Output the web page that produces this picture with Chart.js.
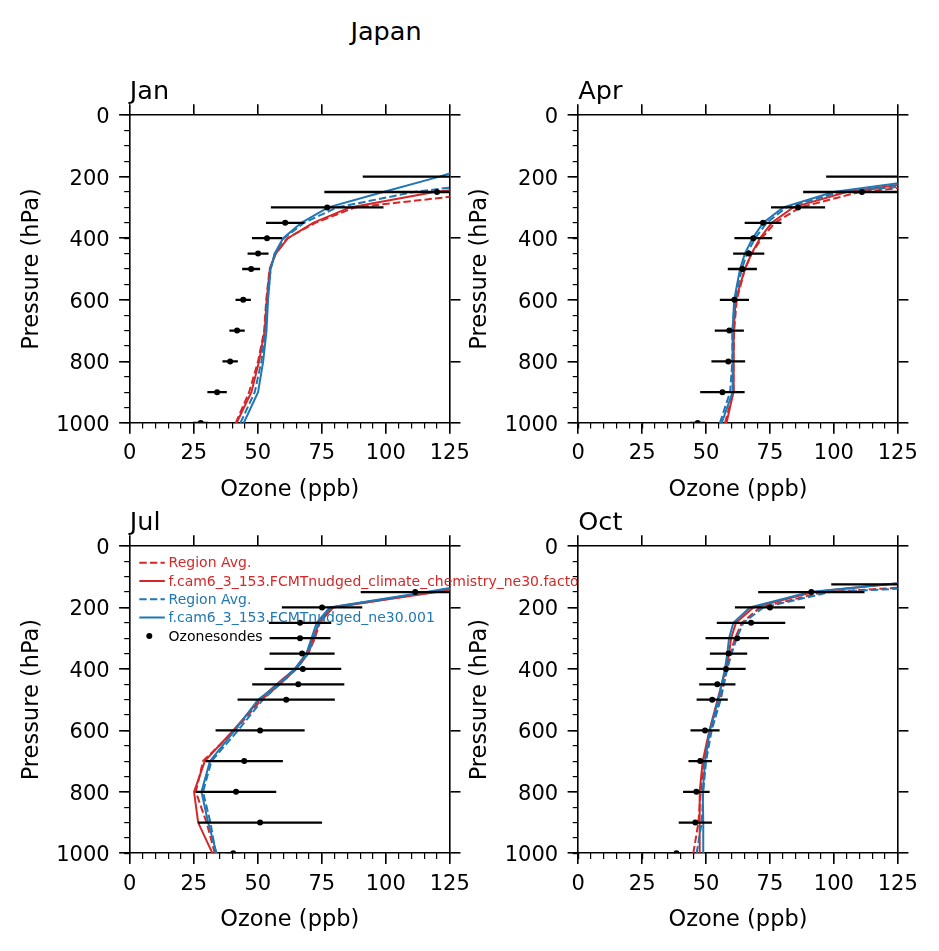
<!DOCTYPE html>
<html>
<head>
<meta charset="utf-8">
<script src="https://cdn.jsdelivr.net/npm/chart.js@4.4.1/dist/chart.umd.min.js"></script>
<style>
  html, body { margin: 0; padding: 0; background: #ffffff; width: 939px; height: 951px; overflow: hidden; }
  canvas { position: absolute; }
  #suptitle { position: absolute; font-family: 'DejaVu Sans'; font-size: 25.5px; line-height: 25.5px;
              left: 286px; width: 200px; top: 19.4px; text-align: center; color: #000; }
</style>
</head>
<body>
<div id="suptitle">Japan</div>
<canvas id="cJan"></canvas>
<canvas id="cApr"></canvas>
<canvas id="cJul"></canvas>
<canvas id="cOct"></canvas>
<script>
// ---------------- data ----------------
const MODEL_P = [1000, 900, 800, 700, 600, 500, 450, 400, 350, 300, 250, 200, 150, 100];

const JAN_CHEM_REGION   = [41.4, 46.6, 50.1, 52.5, 53.3, 54.6, 57.0, 61.5, 72.5, 88.0, 142, 200, 260, 320];
const JAN_CHEM          = [41.7, 47.5, 50.5, 52.7, 53.5, 54.7, 57.0, 61.8, 71.6, 86.0, 119, 170, 230, 300];
const JAN_NUDGED_REGION = [43.2, 48.8, 51.4, 53.0, 53.8, 55.0, 56.6, 60.2, 68.0, 81.0, 111, 160, 220, 300];
const JAN_NUDGED        = [44.5, 50.1, 52.1, 53.4, 54.0, 55.0, 56.6, 59.9, 67.0, 77.5, 99, 121, 140, 200];
const JAN_SONDE_P   = [200, 250, 300, 350, 400, 450, 500, 600, 700, 800, 900, 1000];
const JAN_SONDE_O3  = [140, 120.0, 77.1, 60.7, 53.6, 50.1, 47.4, 44.3, 41.9, 39.2, 34.1, 27.7];
const JAN_SONDE_ERR = [49, 44, 22, 7.5, 5.9, 4.1, 3.5, 3.0, 3.0, 3.0, 3.8, 3.0];

const APR_CHEM_REGION   = [57.4, 60.7, 60.7, 61.0, 62.0, 65.2, 67.8, 71.8, 77.0, 86.8, 110, 170, 240, 300];
const APR_CHEM          = [58.0, 60.7, 60.7, 60.9, 61.6, 65.2, 67.8, 71.1, 75.7, 84.1, 105, 150, 220, 280];
const APR_NUDGED_REGION = [55.4, 59.4, 60.3, 60.3, 61.3, 64.0, 66.0, 69.2, 73.7, 81.5, 102.4, 170, 240, 300];
const APR_NUDGED        = [56.1, 60.4, 60.4, 60.4, 61.0, 63.3, 65.2, 68.2, 72.4, 80.2, 99.8, 144, 200, 260];
const APR_SONDE_P   = [200, 250, 300, 350, 400, 450, 500, 600, 700, 800, 900, 1000];
const APR_SONDE_O3  = [135, 111, 86, 72.3, 68.5, 66.7, 64.2, 61.1, 59.1, 58.7, 56.4, 46.7];
const APR_SONDE_ERR = [38, 23, 10.6, 7.2, 7.4, 6.1, 5.7, 5.7, 5.7, 6.6, 8.7, 3.0];

const JUL_CHEM_REGION   = [33.2, 30.0, 25.8, 28.6, 41.0, 51.4, 58.6, 65.1, 69.7, 72.3, 74.2, 78.8, 118.5, 150];
const JUL_CHEM          = [32.3, 26.7, 25.1, 29.3, 40.4, 50.8, 57.3, 64.5, 69.0, 71.6, 74.0, 79.4, 119.8, 150];
const JUL_NUDGED_REGION = [33.6, 31.5, 28.6, 31.9, 42.3, 52.0, 58.6, 65.1, 69.7, 72.0, 73.8, 78.4, 117.0, 150];
const JUL_NUDGED        = [33.9, 30.6, 28.0, 31.3, 41.0, 50.1, 57.9, 64.5, 69.0, 71.0, 73.0, 78.1, 115.9, 150];
const JUL_SONDE_P   = [150, 200, 250, 300, 350, 400, 450, 500, 600, 700, 800, 900, 1000];
const JUL_SONDE_O3  = [111.5, 75.1, 66.5, 66.5, 67.3, 67.6, 65.8, 61.1, 50.9, 44.7, 41.5, 50.9, 40.4];
const JUL_SONDE_ERR = [21.3, 15.7, 12.2, 11.9, 12.7, 15.0, 18.0, 19.0, 17.4, 15.1, 15.7, 24.2, 3.0];

const OCT_CHEM_REGION   = [45.0, 47.0, 47.9, 49.2, 51.8, 55.5, 56.8, 58.1, 59.6, 61.3, 64.0, 71.1, 95.9, 200];
const OCT_CHEM          = [47.4, 47.4, 47.6, 48.7, 51.3, 54.5, 56.1, 57.8, 59.0, 59.8, 61.7, 68.5, 92.0, 150];
const OCT_NUDGED_REGION = [46.3, 48.3, 48.9, 50.0, 52.2, 55.7, 57.0, 58.3, 60.0, 62.0, 64.6, 72.4, 98.5, 220];
const OCT_NUDGED        = [48.9, 48.9, 48.7, 49.6, 51.5, 54.8, 56.1, 57.4, 58.3, 59.0, 60.7, 67.2, 90.7, 150];
const OCT_SONDE_P   = [125, 150, 200, 250, 300, 350, 400, 450, 500, 600, 700, 800, 900, 1000];
const OCT_SONDE_O3  = [140, 91.2, 75.0, 67.6, 62.2, 58.8, 57.8, 54.4, 52.4, 49.6, 47.7, 46.2, 45.8, 38.4];
const OCT_SONDE_ERR = [41, 20.8, 13.7, 13.4, 12.4, 7.3, 7.7, 7.1, 6.1, 5.7, 4.6, 5.2, 6.5, 3.0];

const X_TICKS_STEP = 25, X_MINOR_STEP = 5, X_MIN = 0, X_MAX = 125;
const Y_TICKS_STEP = 200, Y_MINOR_STEP = 50, Y_MIN = 0, Y_MAX = 1000;
const LABEL_CHEM_REGION = 'Region Avg.';
const LABEL_CHEM = 'f.cam6_3_153.FCMTnudged_climate_chemistry_ne30.factor';
const LABEL_NUDGED_REGION = 'Region Avg.';
const LABEL_NUDGED = 'f.cam6_3_153.FCMTnudged_ne30.001';
const LABEL_SONDE = 'Ozonesondes';

// ---------------- style / layout ----------------
const FONT = 'DejaVu Sans';
const BLACK = '#000000', RED = '#d62728', BLUE = '#1f77b4';
const TICK_MAJOR = 10.7, TICK_MINOR = 5.6;
const SPINE_W = 1.6, MINOR_W = 1.2;
const TICK_FS = 21, LABEL_FS = 22.5, TITLE_FS = 25.5, LEGEND_FS = 14;
const MID_K = 0.346;          // canvas 'middle' baseline offset (fraction of font size)
const LINE_W = 2, DASH = [7.4, 3.2];

const PANELS = [
  { id: 'cJan', title: 'Jan', legend: false,
    box: { left: 0, top: 50, width: 480, height: 455 },
    area: { left: 129.8, right: 449.8, top: 115, bottom: 423 },
    chemRegion: JAN_CHEM_REGION, chem: JAN_CHEM, nudgedRegion: JAN_NUDGED_REGION, nudged: JAN_NUDGED,
    sondeP: JAN_SONDE_P, sondeO3: JAN_SONDE_O3, sondeErr: JAN_SONDE_ERR },
  { id: 'cApr', title: 'Apr', legend: false,
    box: { left: 455, top: 50, width: 484, height: 455 },
    area: { left: 578.3, right: 897.7, top: 115, bottom: 423 },
    chemRegion: APR_CHEM_REGION, chem: APR_CHEM, nudgedRegion: APR_NUDGED_REGION, nudged: APR_NUDGED,
    sondeP: APR_SONDE_P, sondeO3: APR_SONDE_O3, sondeErr: APR_SONDE_ERR },
  { id: 'cJul', title: 'Jul', legend: true,
    box: { left: 0, top: 481, width: 600, height: 460 },
    area: { left: 129.8, right: 449.8, top: 546, bottom: 853.3 },
    chemRegion: JUL_CHEM_REGION, chem: JUL_CHEM, nudgedRegion: JUL_NUDGED_REGION, nudged: JUL_NUDGED,
    sondeP: JUL_SONDE_P, sondeO3: JUL_SONDE_O3, sondeErr: JUL_SONDE_ERR },
  { id: 'cOct', title: 'Oct', legend: false,
    box: { left: 455, top: 481, width: 484, height: 460 },
    area: { left: 578.3, right: 897.7, top: 546, bottom: 853.3 },
    chemRegion: OCT_CHEM_REGION, chem: OCT_CHEM, nudgedRegion: OCT_NUDGED_REGION, nudged: OCT_NUDGED,
    sondeP: OCT_SONDE_P, sondeO3: OCT_SONDE_O3, sondeErr: OCT_SONDE_ERR },
];

// ---------------- helpers ----------------
function profile(values) { return values.map((v, i) => ({ x: v, y: MODEL_P[i] })); }
function sondePoints(p, o3) { return o3.map((v, i) => ({ x: v, y: p[i] })); }
function sondeBars(p, o3, err) {
  const out = [];
  o3.forEach((v, i) => { out.push({ x: v - err[i], y: p[i] }, { x: v + err[i], y: p[i] }, { x: v, y: null }); });
  return out;
}

const profileLegend = {
  id: 'profileLegend',
  afterDatasetsDraw(chart, args, opts) {
    if (!opts || !opts.display) return;
    const ctx = chart.ctx, area = chart.chartArea;
    ctx.save();
    ctx.beginPath(); ctx.rect(0, 0, opts.clipRight, chart.height); ctx.clip();
    let y = area.top + opts.firstRow;
    chart.data.datasets.forEach(ds => {
      if (!ds.label) return;
      const x0 = area.left + opts.handleLeft;
      if (ds.showLine) {
        ctx.strokeStyle = ds.borderColor; ctx.lineWidth = ds.borderWidth; ctx.lineCap = 'butt';
        ctx.setLineDash(ds.borderDash || []);
        ctx.beginPath(); ctx.moveTo(x0, y); ctx.lineTo(x0 + opts.handleLength, y); ctx.stroke();
        ctx.setLineDash([]);
      } else {
        ctx.fillStyle = ds.pointBackgroundColor;
        ctx.beginPath(); ctx.arc(x0 + opts.markerOffset, y, ds.pointRadius, 0, Math.PI * 2); ctx.fill();
      }
      ctx.fillStyle = ds.showLine ? ds.borderColor : BLACK;
      ctx.font = LEGEND_FS + 'px "' + FONT + '"';
      ctx.textAlign = 'left'; ctx.textBaseline = 'alphabetic';
      ctx.fillText(ds.label, area.left + opts.textLeft, y + opts.baselineShift);
      y += opts.rowHeight;
    });
    ctx.restore();
  }
};

function zeroPad(s) { s.paddingLeft = 0; s.paddingRight = 0; s.paddingTop = 0; s.paddingBottom = 0; }

function buildChart(pn) {
  const canvas = document.getElementById(pn.id);
  canvas.width = pn.box.width; canvas.height = pn.box.height;
  canvas.style.left = pn.box.left + 'px'; canvas.style.top = pn.box.top + 'px';
  canvas.style.width = pn.box.width + 'px'; canvas.style.height = pn.box.height + 'px';

  const topSpace = pn.area.top - pn.box.top;
  const yW = pn.area.left - pn.box.left;
  const padRight = pn.box.left + pn.box.width - pn.area.right - TICK_MAJOR;
  const areaBottomInBox = pn.area.bottom - pn.box.top;
  // x label: baseline ~74 px below axes bottom
  const xLabelMid = 74.5 - MID_K * LABEL_FS;
  const xH = xLabelMid + LABEL_FS / 2;
  const padBottom = pn.box.height - areaBottomInBox - xH;
  // subplot title: baseline ~14 px above axes top
  const titleMid = topSpace - 14 - MID_K * TITLE_FS;
  const tPadTop = titleMid - TITLE_FS / 2;
  const tPadBottom = topSpace - TICK_MAJOR - tPadTop - TITLE_FS;
  // y label: baseline ~90 px left of axes
  const yLabelMid = (pn.area.left - 90 - MID_K * LABEL_FS) - pn.box.left;
  const yTitlePad = yLabelMid - LABEL_FS / 2;
  // x tick labels: baseline ~38 px below axes bottom
  const xTickPad = 38.2 - MID_K * TICK_FS - TICK_MAJOR - 1.2 * TICK_FS / 2;

  const tickFont = { family: FONT, size: TICK_FS, lineHeight: 1.2 };
  const labelFont = { family: FONT, size: LABEL_FS, lineHeight: 1 };
  const majorGrid = { display: true, drawOnChartArea: false, drawTicks: true, tickLength: TICK_MAJOR, lineWidth: SPINE_W, color: BLACK };
  const minorGrid = { display: true, drawOnChartArea: false, drawTicks: true, tickLength: TICK_MINOR, lineWidth: MINOR_W, color: BLACK };
  const spine = { display: true, color: BLACK, width: SPINE_W };

  const scales = {
    x: { type: 'linear', axis: 'x', position: 'bottom', weight: 1, min: X_MIN, max: X_MAX,
      ticks: { stepSize: X_TICKS_STEP, autoSkip: false, maxRotation: 0, minRotation: 0, color: BLACK, font: tickFont,
               padding: xTickPad, callback: v => String(v) },
      grid: majorGrid, border: spine,
      title: { display: true, text: 'Ozone (ppb)', color: BLACK, font: labelFont, padding: { top: 0, bottom: 0 } },
      afterFit: s => { s.height = xH; zeroPad(s); } },
    xMinor: { type: 'linear', axis: 'x', position: 'bottom', weight: 0, min: X_MIN, max: X_MAX,
      ticks: { stepSize: X_MINOR_STEP, display: false }, grid: minorGrid, border: { display: false },
      afterFit: s => { s.height = 0; zeroPad(s); } },
    xTop: { type: 'linear', axis: 'x', position: 'top', weight: 0, min: X_MIN, max: X_MAX,
      ticks: { stepSize: X_TICKS_STEP, display: false }, grid: majorGrid, border: spine,
      afterFit: s => { s.height = TICK_MAJOR; zeroPad(s); } },
    y: { type: 'linear', axis: 'y', position: 'left', weight: 1, reverse: true, min: Y_MIN, max: Y_MAX,
      ticks: { stepSize: Y_TICKS_STEP, autoSkip: false, color: BLACK, font: tickFont, padding: 9.5, labelOffset: 2.5,
               callback: v => String(v) },
      grid: majorGrid, border: spine,
      title: { display: true, text: 'Pressure (hPa)', color: BLACK, font: labelFont, padding: { top: yTitlePad, bottom: 0 } },
      afterFit: s => { s.width = yW; zeroPad(s); } },
    yMinor: { type: 'linear', axis: 'y', position: 'left', weight: 0, reverse: true, min: Y_MIN, max: Y_MAX,
      ticks: { stepSize: Y_MINOR_STEP, display: false }, grid: minorGrid, border: { display: false },
      afterFit: s => { s.width = 0; zeroPad(s); } },
    yRight: { type: 'linear', axis: 'y', position: 'right', weight: 0, reverse: true, min: Y_MIN, max: Y_MAX,
      ticks: { stepSize: Y_TICKS_STEP, display: false }, grid: majorGrid, border: spine,
      afterFit: s => { s.width = TICK_MAJOR; zeroPad(s); } },
  };

  const common = { xAxisID: 'x', yAxisID: 'y', clip: 0, tension: 0, pointRadius: 0, pointHoverRadius: 0, borderCapStyle: 'butt' };
  const datasets = [
    Object.assign({}, common, { label: LABEL_CHEM_REGION, data: profile(pn.chemRegion), borderColor: RED, borderWidth: LINE_W, borderDash: DASH, showLine: true, order: 6 }),
    Object.assign({}, common, { label: LABEL_CHEM, data: profile(pn.chem), borderColor: RED, borderWidth: LINE_W, showLine: true, order: 5 }),
    Object.assign({}, common, { label: LABEL_NUDGED_REGION, data: profile(pn.nudgedRegion), borderColor: BLUE, borderWidth: LINE_W, borderDash: DASH, showLine: true, order: 4 }),
    Object.assign({}, common, { label: LABEL_NUDGED, data: profile(pn.nudged), borderColor: BLUE, borderWidth: LINE_W, showLine: true, order: 3 }),
    Object.assign({}, common, { label: LABEL_SONDE, data: sondePoints(pn.sondeP, pn.sondeO3), showLine: false,
      pointRadius: 3, pointBackgroundColor: BLACK, pointBorderWidth: 0, borderColor: BLACK, order: 1 }),
    Object.assign({}, common, { label: '', data: sondeBars(pn.sondeP, pn.sondeO3, pn.sondeErr), showLine: true, spanGaps: false,
      borderColor: BLACK, borderWidth: 2.3, order: 2 }),
  ];

  return new Chart(canvas, {
    type: 'scatter',
    data: { datasets },
    options: {
      responsive: false, animation: false, events: [],
      layout: { padding: { left: 0, top: 0, right: padRight, bottom: padBottom } },
      scales,
      plugins: {
        legend: { display: false }, tooltip: { enabled: false },
        title: { display: true, text: pn.title, align: 'start', fullSize: false, color: BLACK,
                 font: { family: FONT, size: TITLE_FS, weight: 'normal', lineHeight: 1 },
                 padding: { top: tPadTop, bottom: tPadBottom } },
        profileLegend: { display: pn.legend, clipRight: PANELS[3].area.left - pn.box.left,
                 firstRow: 16.7, rowHeight: 18.3, handleLeft: 9.5, handleLength: 25.5, markerOffset: 10,
                 textLeft: 38.8, baselineShift: 4.7 }
      }
    },
    plugins: [profileLegend]
  });
}

PANELS.forEach(buildChart);
</script>
</body>
</html>
